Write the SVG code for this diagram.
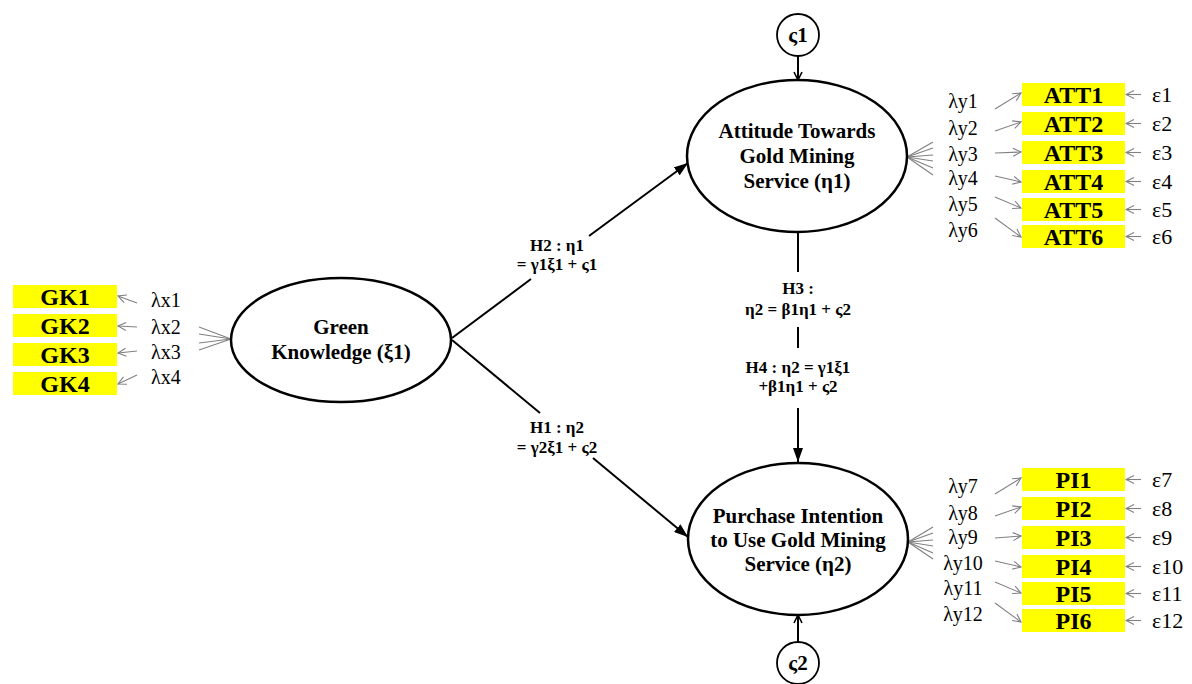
<svg xmlns="http://www.w3.org/2000/svg" width="1192" height="684" viewBox="0 0 1192 684">
<defs>
<marker id="fill" viewBox="0 0 14 10" refX="14" refY="5" markerWidth="14" markerHeight="10" markerUnits="userSpaceOnUse" orient="auto"><path d="M0,0 L14,5 L0,10 z" fill="#000"/></marker>
<marker id="openb" viewBox="0 0 10 10" refX="9" refY="5" markerWidth="10" markerHeight="10" markerUnits="userSpaceOnUse" orient="auto"><path d="M1,1 L9,5 L1,9" fill="none" stroke="#000" stroke-width="1.6"/></marker>
<marker id="openg" viewBox="0 0 10 10" refX="9" refY="5" markerWidth="10" markerHeight="10" markerUnits="userSpaceOnUse" orient="auto"><path d="M1,1 L9,5 L1,9" fill="none" stroke="#808080" stroke-width="1.1"/></marker>
<style>
.ell{fill:#fff;stroke:#000;stroke-width:2.5}
.circ{fill:#fff;stroke:#000;stroke-width:1.8}
.box{fill:#ffff00}
.bt{font-family:"Liberation Serif",serif;font-weight:bold;font-size:24px;text-anchor:middle;fill:#000}
.et{font-family:"Liberation Serif",serif;font-weight:bold;font-size:21px;text-anchor:middle;fill:#000}
.ht{font-family:"Liberation Serif",serif;font-weight:bold;font-size:17px;text-anchor:middle;fill:#000}
.lt{font-family:"Liberation Serif",serif;font-size:20px;fill:#000}
.lc{font-family:"Liberation Serif",serif;font-size:20px;fill:#000;text-anchor:middle}
.ep{font-family:"Liberation Serif",serif;font-size:22px;fill:#000}
.main{stroke:#000;stroke-width:2;fill:none}
.ga{stroke:#808080;stroke-width:1.1;fill:none}
</style>
</defs>
<rect width="1192" height="684" fill="#fff"/>

<g id="connectors">
<line class="main" x1="452" y1="338" x2="531" y2="279"/>
<line class="main" x1="589" y1="236" x2="688" y2="163" marker-end="url(#fill)"/>
<line class="main" x1="452" y1="340" x2="540" y2="413"/>
<line class="main" x1="593" y1="458" x2="688" y2="537" marker-end="url(#fill)"/>
<line class="main" x1="798" y1="232" x2="798" y2="272"/>
<line class="main" x1="798" y1="327" x2="798" y2="348"/>
<line class="main" x1="798" y1="408" x2="798" y2="462" marker-end="url(#fill)"/>
<line class="main" x1="798" y1="56" x2="798" y2="80" marker-end="url(#openb)"/>
<line class="main" x1="798" y1="642" x2="798" y2="615" marker-end="url(#openb)"/>
<!-- GK loadings -->
<line class="ga" x1="199" y1="327" x2="231" y2="339"/>
<line class="ga" x1="199" y1="334" x2="231" y2="339"/>
<line class="ga" x1="199" y1="343" x2="231" y2="339"/>
<line class="ga" x1="199" y1="350" x2="231" y2="339"/>
<line class="ga" x1="137" y1="303" x2="118" y2="296" marker-end="url(#openg)"/>
<line class="ga" x1="137" y1="327" x2="118" y2="326" marker-end="url(#openg)"/>
<line class="ga" x1="137" y1="351" x2="118" y2="353" marker-end="url(#openg)"/>
<line class="ga" x1="137" y1="375" x2="118" y2="384" marker-end="url(#openg)"/>
<!-- ATT loadings -->
<line class="ga" x1="907" y1="157" x2="933" y2="142"/>
<line class="ga" x1="907" y1="157" x2="933" y2="148"/>
<line class="ga" x1="907" y1="157" x2="933" y2="155"/>
<line class="ga" x1="907" y1="157" x2="933" y2="161"/>
<line class="ga" x1="907" y1="157" x2="933" y2="168"/>
<line class="ga" x1="907" y1="157" x2="933" y2="175"/>
<line class="ga" x1="995" y1="109" x2="1021" y2="93" marker-end="url(#openg)"/>
<line class="ga" x1="995" y1="131" x2="1021" y2="122" marker-end="url(#openg)"/>
<line class="ga" x1="995" y1="153" x2="1021" y2="152" marker-end="url(#openg)"/>
<line class="ga" x1="995" y1="176" x2="1021" y2="182" marker-end="url(#openg)"/>
<line class="ga" x1="995" y1="197" x2="1021" y2="208" marker-end="url(#openg)"/>
<line class="ga" x1="995" y1="218" x2="1021" y2="237" marker-end="url(#openg)"/>
<line class="ga" x1="1141" y1="94.5" x2="1126" y2="94.5" marker-end="url(#openg)"/>
<line class="ga" x1="1141" y1="123.5" x2="1126" y2="123.5" marker-end="url(#openg)"/>
<line class="ga" x1="1141" y1="152.5" x2="1126" y2="152.5" marker-end="url(#openg)"/>
<line class="ga" x1="1141" y1="181.5" x2="1126" y2="181.5" marker-end="url(#openg)"/>
<line class="ga" x1="1141" y1="209.5" x2="1126" y2="209.5" marker-end="url(#openg)"/>
<line class="ga" x1="1141" y1="236.5" x2="1126" y2="236.5" marker-end="url(#openg)"/>
<!-- PI loadings -->
<line class="ga" x1="908" y1="542" x2="933" y2="527"/>
<line class="ga" x1="908" y1="542" x2="933" y2="533"/>
<line class="ga" x1="908" y1="542" x2="933" y2="540"/>
<line class="ga" x1="908" y1="542" x2="933" y2="546"/>
<line class="ga" x1="908" y1="542" x2="933" y2="553"/>
<line class="ga" x1="908" y1="542" x2="933" y2="559"/>
<line class="ga" x1="995" y1="494" x2="1021" y2="478" marker-end="url(#openg)"/>
<line class="ga" x1="995" y1="516" x2="1021" y2="507" marker-end="url(#openg)"/>
<line class="ga" x1="995" y1="538" x2="1021" y2="536" marker-end="url(#openg)"/>
<line class="ga" x1="995" y1="561" x2="1021" y2="567" marker-end="url(#openg)"/>
<line class="ga" x1="995" y1="582" x2="1021" y2="593" marker-end="url(#openg)"/>
<line class="ga" x1="995" y1="603" x2="1021" y2="622" marker-end="url(#openg)"/>
<line class="ga" x1="1141" y1="479.5" x2="1126" y2="479.5" marker-end="url(#openg)"/>
<line class="ga" x1="1141" y1="508.5" x2="1126" y2="508.5" marker-end="url(#openg)"/>
<line class="ga" x1="1141" y1="537.5" x2="1126" y2="537.5" marker-end="url(#openg)"/>
<line class="ga" x1="1141" y1="566.5" x2="1126" y2="566.5" marker-end="url(#openg)"/>
<line class="ga" x1="1141" y1="593.5" x2="1126" y2="593.5" marker-end="url(#openg)"/>
<line class="ga" x1="1141" y1="620.5" x2="1126" y2="620.5" marker-end="url(#openg)"/>
</g>

<g id="labels">
<text class="ht" x="557" y="251">H2 : η1</text>
<text class="ht" x="557" y="270">= γ1ξ1 + ς1</text>
<text class="ht" x="557" y="433">H1 : η2</text>
<text class="ht" x="557" y="453">= γ2ξ1 + ς2</text>
<text class="ht" x="798" y="294">H3 :</text>
<text class="ht" x="798" y="315">η2 = β1η1 + ς2</text>
<text class="ht" x="798" y="373">H4 : η2 = γ1ξ1</text>
<text class="ht" x="798" y="392">+β1η1 + ς2</text>
</g>

<g id="green-knowledge">
<ellipse class="ell" cx="341" cy="340" rx="110" ry="62"/>
<text class="et" x="341" y="334">Green</text>
<text class="et" x="341" y="359">Knowledge (ξ1)</text>
</g>
<g id="attitude">
<ellipse class="ell" cx="797" cy="156" rx="110" ry="76"/>
<text class="et" x="797" y="138">Attitude Towards</text>
<text class="et" x="797" y="163">Gold Mining</text>
<text class="et" x="797" y="188">Service (η1)</text>
</g>
<g id="purchase">
<ellipse class="ell" cx="798" cy="539" rx="110" ry="76"/>
<text class="et" x="798" y="523">Purchase Intention</text>
<text class="et" x="798" y="547">to Use Gold Mining</text>
<text class="et" x="798" y="571">Service (η2)</text>
</g>
<g id="zeta1">
<circle class="circ" cx="798" cy="35" r="21"/>
<text class="et" x="798" y="42">ς1</text>
</g>
<g id="zeta2">
<circle class="circ" cx="798" cy="663" r="21"/>
<text class="et" x="798" y="670">ς2</text>
</g>

<g id="gk-items">
<rect class="box" x="13" y="285" width="104" height="23"/><text class="bt" x="65" y="305">GK1</text>
<rect class="box" x="13" y="314" width="104" height="23"/><text class="bt" x="65" y="334">GK2</text>
<rect class="box" x="13" y="343" width="104" height="23"/><text class="bt" x="65" y="363">GK3</text>
<rect class="box" x="13" y="372" width="104" height="23"/><text class="bt" x="65" y="392">GK4</text>
<text class="lt" x="151" y="307">λx1</text>
<text class="lt" x="151" y="334">λx2</text>
<text class="lt" x="151" y="359">λx3</text>
<text class="lt" x="151" y="384">λx4</text>
</g>

<g id="att-items">
<rect class="box" x="1022" y="83" width="103" height="23"/><text class="bt" x="1073.5" y="103">ATT1</text>
<rect class="box" x="1022" y="112" width="103" height="23"/><text class="bt" x="1073.5" y="132">ATT2</text>
<rect class="box" x="1022" y="141" width="103" height="23"/><text class="bt" x="1073.5" y="161">ATT3</text>
<rect class="box" x="1022" y="170" width="103" height="23"/><text class="bt" x="1073.5" y="190">ATT4</text>
<rect class="box" x="1022" y="198" width="103" height="23"/><text class="bt" x="1073.5" y="218">ATT5</text>
<rect class="box" x="1022" y="225" width="103" height="23"/><text class="bt" x="1073.5" y="245">ATT6</text>
<text class="lc" x="963" y="108">λy1</text>
<text class="lc" x="963" y="135">λy2</text>
<text class="lc" x="963" y="161">λy3</text>
<text class="lc" x="963" y="185">λy4</text>
<text class="lc" x="963" y="211">λy5</text>
<text class="lc" x="963" y="237">λy6</text>
<text class="ep" x="1152" y="102">ε1</text>
<text class="ep" x="1152" y="131">ε2</text>
<text class="ep" x="1152" y="160">ε3</text>
<text class="ep" x="1152" y="189">ε4</text>
<text class="ep" x="1152" y="217">ε5</text>
<text class="ep" x="1152" y="244">ε6</text>
</g>

<g id="pi-items">
<rect class="box" x="1022" y="468" width="103" height="23"/><text class="bt" x="1073.5" y="488">PI1</text>
<rect class="box" x="1022" y="497" width="103" height="23"/><text class="bt" x="1073.5" y="517">PI2</text>
<rect class="box" x="1022" y="526" width="103" height="23"/><text class="bt" x="1073.5" y="546">PI3</text>
<rect class="box" x="1022" y="555" width="103" height="23"/><text class="bt" x="1073.5" y="575">PI4</text>
<rect class="box" x="1022" y="582" width="103" height="23"/><text class="bt" x="1073.5" y="602">PI5</text>
<rect class="box" x="1022" y="609" width="103" height="23"/><text class="bt" x="1073.5" y="629">PI6</text>
<text class="lc" x="963" y="493">λy7</text>
<text class="lc" x="963" y="520">λy8</text>
<text class="lc" x="963" y="544">λy9</text>
<text class="lc" x="963" y="570">λy10</text>
<text class="lc" x="963" y="595">λy11</text>
<text class="lc" x="963" y="621">λy12</text>
<text class="ep" x="1152" y="487">ε7</text>
<text class="ep" x="1152" y="516">ε8</text>
<text class="ep" x="1152" y="545">ε9</text>
<text class="ep" x="1152" y="574">ε10</text>
<text class="ep" x="1152" y="601">ε11</text>
<text class="ep" x="1152" y="628">ε12</text>
</g>
</svg>
